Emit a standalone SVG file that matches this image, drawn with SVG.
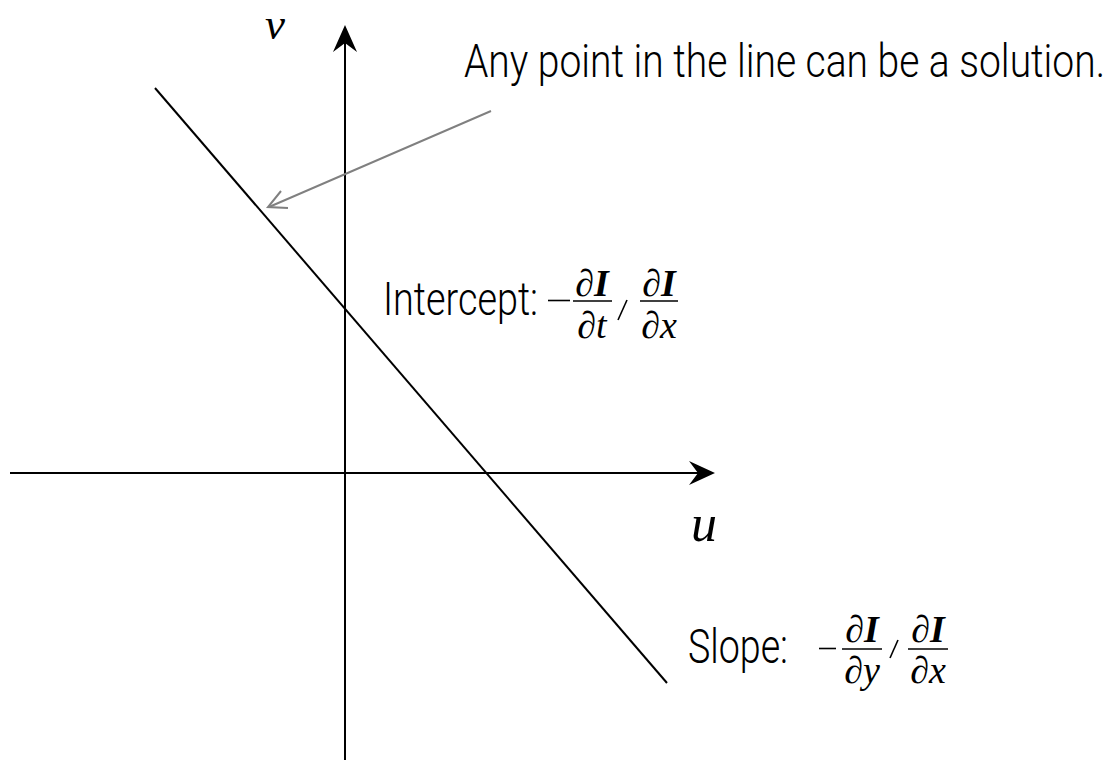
<svg xmlns="http://www.w3.org/2000/svg" width="1114" height="761" viewBox="0 0 1114 761">
<style>
.lbl{font-family:Roboto,"Liberation Sans",Arial,sans-serif;font-weight:300;fill:#000}
.m{font-family:"Liberation Serif","Times New Roman",serif;font-style:italic;fill:#000;font-size:38px;text-anchor:middle}
.mi{font-weight:bold}
.ax{stroke:#000;stroke-width:2;fill:none}
.bar{stroke:#000;stroke-width:1.6}
</style>
<rect width="1114" height="761" fill="#fff"/>
<g id="connectors">
<line class="ax" x1="345" y1="760" x2="345" y2="40"/>
<path d="M345,25 L357,52 L345,43 L333,52 Z" fill="#000"/>
<line class="ax" x1="10" y1="473" x2="700" y2="473"/>
<path d="M715,473 L689,461 L698,473 L689,485 Z" fill="#000"/>
<line class="ax" x1="155" y1="88" x2="667" y2="683"/>
<line x1="491" y1="111" x2="269" y2="207" stroke="#808080" stroke-width="2"/>
<polyline points="281,191 268,207 288,208" stroke="#808080" stroke-width="2" fill="none"/>
</g>
<g id="label-v"><text x="275" y="39" class="m" style="font-size:45px">v</text></g>
<g id="label-u"><text x="704" y="541" class="m" style="font-size:52px">u</text></g>
<g id="note"><text transform="translate(464,77) scale(1,1.18)" x="0" y="0" class="lbl" font-size="39" textLength="641" lengthAdjust="spacingAndGlyphs">Any point in the line can be a solution.</text></g>
<g id="intercept">
<text x="383" y="315" class="lbl" font-size="46" textLength="155" lengthAdjust="spacingAndGlyphs">Intercept:</text>
<line class="bar" x1="548" y1="300.5" x2="570" y2="300.5"/>
<line class="bar" x1="573" y1="301" x2="612" y2="301"/>
<text x="592" y="296" class="m">∂<tspan class="mi">I</tspan></text>
<text x="592" y="338" class="m">∂t</text>
<line x1="627" y1="300" x2="618" y2="320" stroke="#000" stroke-width="1.6"/>
<line class="bar" x1="640" y1="301" x2="678" y2="301"/>
<text x="659" y="296" class="m">∂<tspan class="mi">I</tspan></text>
<text x="659" y="338" class="m">∂x</text>
</g>
<g id="slope">
<text x="688" y="663" class="lbl" font-size="48" textLength="100" lengthAdjust="spacingAndGlyphs">Slope:</text>
<line class="bar" x1="819" y1="648.5" x2="836" y2="648.5"/>
<line class="bar" x1="842" y1="649" x2="882" y2="649"/>
<text x="862" y="642" class="m">∂<tspan class="mi">I</tspan></text>
<text x="862" y="683" class="m">∂y</text>
<line x1="898" y1="640" x2="890" y2="658" stroke="#000" stroke-width="1.6"/>
<line class="bar" x1="908" y1="649" x2="948" y2="649"/>
<text x="928" y="642" class="m">∂<tspan class="mi">I</tspan></text>
<text x="928" y="683" class="m">∂x</text>
</g>
</svg>
